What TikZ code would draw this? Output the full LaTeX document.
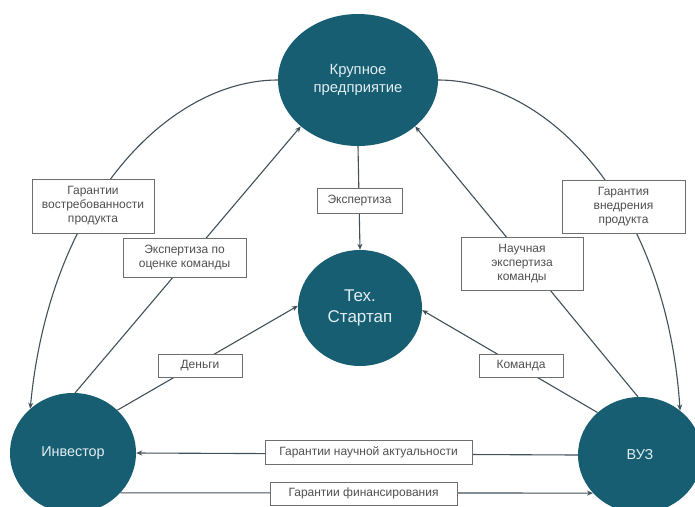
\documentclass[tikz,border=0pt]{standalone}
\usepackage{fontspec}
\setmainfont{Liberation Sans}
\usetikzlibrary{shapes.geometric,arrows.meta}
\definecolor{teal}{RGB}{24,94,114}
\definecolor{linec}{RGB}{66,80,90}
\definecolor{boxc}{RGB}{110,110,110}
\definecolor{txtc}{RGB}{80,80,80}
\definecolor{elltxt}{RGB}{225,238,242}
\tikzset{
  ell/.style={ellipse, fill=teal, draw=none, inner sep=0pt, text=elltxt, align=center},
  lbl/.style={draw=boxc, line width=0.9pt, fill=white, text=txtc, align=center, inner sep=0pt,
              font=\fontsize{12}{14}\selectfont},
  conn/.style={draw=linec, line width=1.1pt},
  arr/.style={conn, -{Stealth[length=6pt,width=5pt]}}
}
\begin{document}
\begin{tikzpicture}[x=1pt,y=-1pt]
\useasboundingbox (0,0) rectangle (695,506);
\clip (0,0) rectangle (695,506);
\fill[white] (0,0) rectangle (695,506);
% main nodes
\node[ell, minimum width=160pt, minimum height=132pt, font=\fontsize{14.8}{17.5}\selectfont] (kr) at (358,80) {Крупное\\предприятие};
\node[ell, minimum width=124pt, minimum height=116pt, font=\fontsize{17}{20.5}\selectfont] (st) at (360,308) {Тех.\\Стартап};
\node[ell, minimum width=126pt, minimum height=120pt, font=\fontsize{14.4}{17}\selectfont] (inv) at (73,453) {Инвестор};
\node[ell, minimum width=124pt, minimum height=116pt, font=\fontsize{14.4}{17}\selectfont] (vuz) at (640,455) {ВУЗ};
% connectors
\draw[arr] (kr.180) .. controls (170,80) and (50,200) .. (inv.134);
\draw[arr] (kr.0) .. controls (546,80) and (666,200) .. (vuz.48);
\draw[arr] (inv.88) -- (kr.-141);
\draw[arr] (vuz.92) -- (kr.-39);
\draw[arr] (kr.-90) -- (st.90);
\draw[arr] (inv.44) -- (st.178);
\draw[arr] (vuz.135) -- (st.-2);
\draw[arr] (vuz.180) -- (inv.0);
\draw[arr] (inv.-40) -- (vuz.-141);
% labels
\node[lbl, minimum width=122pt, minimum height=54pt] (b1) at (93,206) {Гарантии\\востребованности\\продукта};
\node[lbl, minimum width=123pt, minimum height=39pt] (b2) at (184.5,257.5) {Экспертиза по\\оценке команды};
\node[lbl, minimum width=85pt, minimum height=25pt] (b3) at (359.5,200.5) {Экспертиза};
\node[lbl, minimum width=122pt, minimum height=53pt] (b4) at (522,263.5) {Научная\\экспертиза\\команды};
\node[lbl, minimum width=123pt, minimum height=53pt] (b5) at (623.5,206.5) {Гарантия\\внедрения\\продукта};
\node[lbl, minimum width=84pt, minimum height=23pt] (b6) at (200,365.5) {Деньги};
\node[lbl, minimum width=84pt, minimum height=23pt] (b7) at (521,365.5) {Команда};
\node[lbl, minimum width=207pt, minimum height=24pt] (b8) at (368.5,452) {Гарантии научной актуальности};
\node[lbl, minimum width=187pt, minimum height=23pt] (b9) at (363.5,493.5) {Гарантии финансирования};
\end{tikzpicture}
\end{document}
